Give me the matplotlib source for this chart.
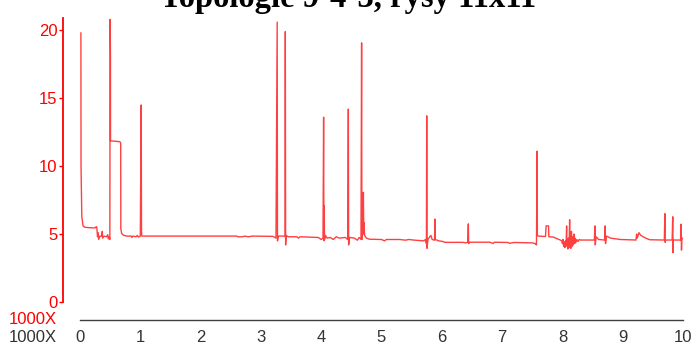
import matplotlib
matplotlib.use("Agg")
import matplotlib.pyplot as plt

# trace (x in thousands, y in thousands)
start_x = [0.015, 0.017, 0.03, 0.05, 0.08, 0.15, 0.25, 0.27, 0.28, 0.29, 0.30, 0.31, 0.33, 0.36,
           0.37, 0.375, 0.40, 0.44, 0.46, 0.47, 0.485, 0.495, 0.50, 0.505, 0.506, 0.66, 0.675,
           0.677, 0.69, 0.72, 0.77, 0.85, 0.86, 0.88, 0.93, 0.95, 0.97, 1.0, 1.015, 1.02, 1.025]
start_y = [19.8, 10.0, 6.3, 5.6, 5.5, 5.47, 5.45, 5.55, 5.45, 4.8, 5.1, 4.6, 4.85, 4.85,
           5.2, 4.7, 4.85, 4.8, 4.95, 4.65, 4.8, 4.6, 20.8, 18.0, 11.86, 11.8, 11.7,
           5.4, 5.05, 4.92, 4.85, 4.85, 4.75, 4.85, 4.8, 4.9, 4.78, 4.85, 14.5, 5.2, 4.85]

mid_x = [2.6, 2.62, 2.7, 2.72, 2.8, 2.85, 3.2, 3.25, 3.27, 3.275, 3.29, 3.4, 3.405, 3.41, 3.42,
         3.45, 3.6, 3.62, 3.65, 3.95, 4.0, 4.03, 4.04, 4.045, 4.05, 4.055, 4.07, 4.1, 4.15, 4.2,
         4.25, 4.3, 4.4, 4.44, 4.45, 4.455, 4.47, 4.55, 4.6, 4.63, 4.66, 4.67, 4.675, 4.69,
         4.70, 4.705, 4.71, 4.72, 4.75, 4.8, 5.0, 5.05, 5.08, 5.3, 5.4, 5.45, 5.55, 5.7, 5.73,
         5.745, 5.75, 5.755, 5.77, 5.8, 5.82, 5.84, 5.88, 5.885, 5.89, 5.95, 6.02, 6.05]
mid_y = [4.85, 4.8, 4.8, 4.85, 4.8, 4.85, 4.83, 4.7, 20.6, 4.5, 4.85, 4.85, 19.9, 4.2, 4.9,
         4.8, 4.8, 4.7, 4.8, 4.75, 4.6, 4.7, 13.6, 4.5, 7.1, 4.6, 4.9, 4.7, 4.75, 4.6,
         4.8, 4.7, 4.75, 4.6, 14.2, 4.2, 4.75, 4.7, 4.55, 4.75, 4.6, 19.07, 4.6, 5.5,
         8.07, 5.0, 5.85, 4.9, 4.7, 4.62, 4.6, 4.5, 4.6, 4.6, 4.55, 4.6, 4.55, 4.5, 4.6,
         4.3, 13.7, 3.95, 4.6, 4.8, 4.9, 4.6, 4.55, 6.1, 4.6, 4.5, 4.45, 4.39]

late_x = [6.35, 6.4, 6.43, 6.44, 6.445, 6.46, 6.8, 6.85, 6.87, 7.1, 7.12, 7.2, 7.5, 7.55, 7.57,
          7.58, 7.585, 7.6, 7.72, 7.73, 7.77, 7.775, 7.85, 7.9, 7.97, 7.99,
          8.00, 8.01, 8.02, 8.03, 8.04, 8.05, 8.06, 8.07, 8.075, 8.08, 8.09, 8.10, 8.11, 8.12,
          8.125, 8.13, 8.14, 8.15, 8.16, 8.17, 8.18, 8.19, 8.20, 8.21, 8.22, 8.24, 8.26, 8.28,
          8.3, 8.53, 8.54, 8.545, 8.56, 8.6, 8.7, 8.71, 8.715, 8.73, 8.8, 8.96, 9.22, 9.23,
          9.24, 9.27, 9.3, 9.38, 9.45, 9.69, 9.70, 9.705, 9.71, 9.82, 9.83, 9.835, 9.84, 9.96,
          9.97, 9.975, 9.98, 10.0]
late_y = [4.39, 4.35, 4.4, 5.75, 4.3, 4.4, 4.4, 4.3, 4.4, 4.38, 4.32, 4.38, 4.35, 4.3, 4.2,
          11.1, 4.9, 4.85, 4.82, 5.6, 5.6, 4.8, 4.78, 4.68, 4.55, 4.5,
          4.3, 4.6, 4.1, 4.4, 4.0, 4.5, 4.1, 5.6, 4.2, 4.6, 3.9, 4.7, 4.0, 6.05,
          4.2, 4.9, 3.95, 5.2, 4.1, 4.8, 4.2, 5.0, 4.3, 4.7, 4.35, 4.6, 4.45, 4.6,
          4.56, 4.56, 5.6, 4.2, 4.8, 4.6, 4.56, 5.6, 4.3, 4.85, 4.7, 4.6, 4.56, 5.0,
          4.7, 5.1, 4.9, 4.7, 4.58, 4.56, 6.5, 4.39, 4.56, 4.56, 6.27, 3.63, 4.56, 4.56,
          5.73, 3.82, 4.6, 4.7]

x_ticks = [0, 1, 2, 3, 4, 5, 6, 7, 8, 9, 10]
y_ticks = [0, 5, 10, 15, 20]
title = "Topologie 9-4-3, rysy 11x11"

xs = start_x + mid_x + late_x
ys = start_y + mid_y + late_y

PX = 72 / 100  # points per pixel at dpi 100

fig = plt.figure(figsize=(6.96, 3.49), dpi=100)
ax = fig.add_axes([80 / 696, 47 / 349, 603 / 696, 284 / 349])
ax.patch.set_visible(False)

ax.plot(xs, ys, color="#ff0000", lw=1.0, alpha=0.75)

ax.set_xlim(0, 10)
ax.set_ylim(0, 20.9)

for s in ("top", "right"):
    ax.spines[s].set_visible(False)
ax.spines["left"].set_position(("outward", 17 * PX))
ax.spines["left"].set_color("#ff0000")
ax.spines["left"].set_linewidth(1.3)
ax.spines["bottom"].set_position(("outward", 18 * PX))
ax.spines["bottom"].set_color("#404040")
ax.spines["bottom"].set_linewidth(1.0)

ax.set_xticks(x_ticks)
ax.set_yticks(y_ticks)
ax.tick_params(axis="x", length=0, pad=10 * PX, labelsize=12, labelcolor="#333333")
ax.tick_params(axis="y", length=3, width=1, color="#ff0000", pad=1,
               labelsize=12, labelcolor="#ff0000")
for lab in ax.get_xticklabels() + ax.get_yticklabels():
    lab.set_family("Liberation Sans")

fig.text(57 / 696, 1 - 320 / 349, "1000X", color="#ff0000", ha="right", va="center",
         fontsize=12, family="Liberation Sans")
fig.text(57 / 696, 1 - 337 / 349, "1000X", color="#333333", ha="right", va="center",
         fontsize=12, family="Liberation Sans")

fig.text(0.5, 1 - 7 / 349, title, ha="center", va="baseline", fontsize=23.5,
         fontweight="bold", family="Liberation Serif")

fig.savefig("out.png", dpi=100, facecolor="white")
